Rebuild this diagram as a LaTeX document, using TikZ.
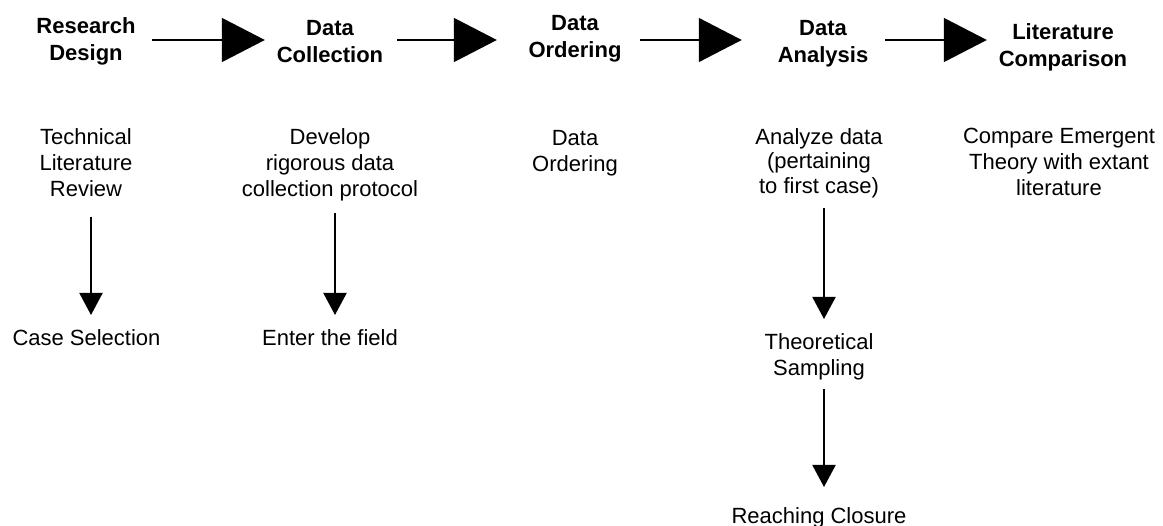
\documentclass[tikz,border=0pt]{standalone}
\usepackage{fontspec}
\setmainfont{Liberation Sans}
\usetikzlibrary{arrows.meta}
\tikzset{
  head/.style={font=\fontsize{22}{27}\selectfont\bfseries, align=center, inner sep=0pt, anchor=north},
  body/.style={font=\fontsize{22}{26}\selectfont, align=center, inner sep=0pt, anchor=north},
  harrow/.style={line width=1.5pt, -{Triangle[length=43pt,width=44pt]}},
  varrow/.style={line width=2pt, -{Triangle[length=22pt,width=23pt]}},
}
\begin{document}
\begin{tikzpicture}[x=1pt,y=-1pt]
\useasboundingbox (0,0) rectangle (1163,526);
% headers
\node[head] (rd) at (86,17.7) {Research\\Design};
\node[head] (dc) at (330,20.5) {Data\\Collection};
\node[head] (do) at (575,15.2) {Data\\Ordering};
\node[head] (da) at (823,19.7) {Data\\Analysis};
\node[head] (lc) at (1063,23) {Literature\\Comparison};
\coordinate (row) at (0,40);
% horizontal arrows
\draw[harrow, shorten <=16.5pt, shorten >=11.8pt] (rd.east |- row) -- (dc.west |- row);
\draw[harrow, shorten <=13.8pt, shorten >=31.5pt] (dc.east |- row) -- (do.west |- row);
\draw[harrow, shorten <=18.5pt, shorten >=35.8pt] (do.east |- row) -- (da.west |- row);
\draw[harrow, shorten <=16.8pt, shorten >=11.8pt] (da.east |- row) -- (lc.west |- row);
% body texts
\node[body] (tlr) at (86,128) {Technical\\Literature\\Review};
\node[body] (drd) at (330,128) {Develop\\rigorous data\\collection protocol};
\node[body] (dob) at (575,130) {Data\\Ordering};
\node[body] (ad) at (819,128) {Analyze data\\[-2pt](pertaining\\[-1pt]to first case)};
\node[body] (ce) at (1059,128) {Compare Emergent\\Theory with extant\\literature};
\node[body] (cs) at (86.5,329) {Case Selection};
\node[body] (ef) at (330,329) {Enter the field};
\node[body] (ts) at (819,333) {Theoretical\\Sampling};
\node[body] (rc) at (819,507) {Reaching Closure};
% vertical arrows
\draw[varrow, shorten <=20pt, shorten >=14pt] ([xshift=5pt]tlr.south) -- ([xshift=4.5pt]cs.north);
\draw[varrow, shorten <=12.4pt, shorten >=14pt] ([xshift=5pt]drd.south) -- ([xshift=5pt]ef.north);
\draw[varrow, shorten <=10pt, shorten >=14pt] ([xshift=5pt]ad.south) -- ([xshift=5pt]ts.north);
\draw[varrow, shorten <=9.4pt, shorten >=20pt] ([xshift=5pt]ts.south) -- ([xshift=5pt]rc.north);
\end{tikzpicture}
\end{document}
